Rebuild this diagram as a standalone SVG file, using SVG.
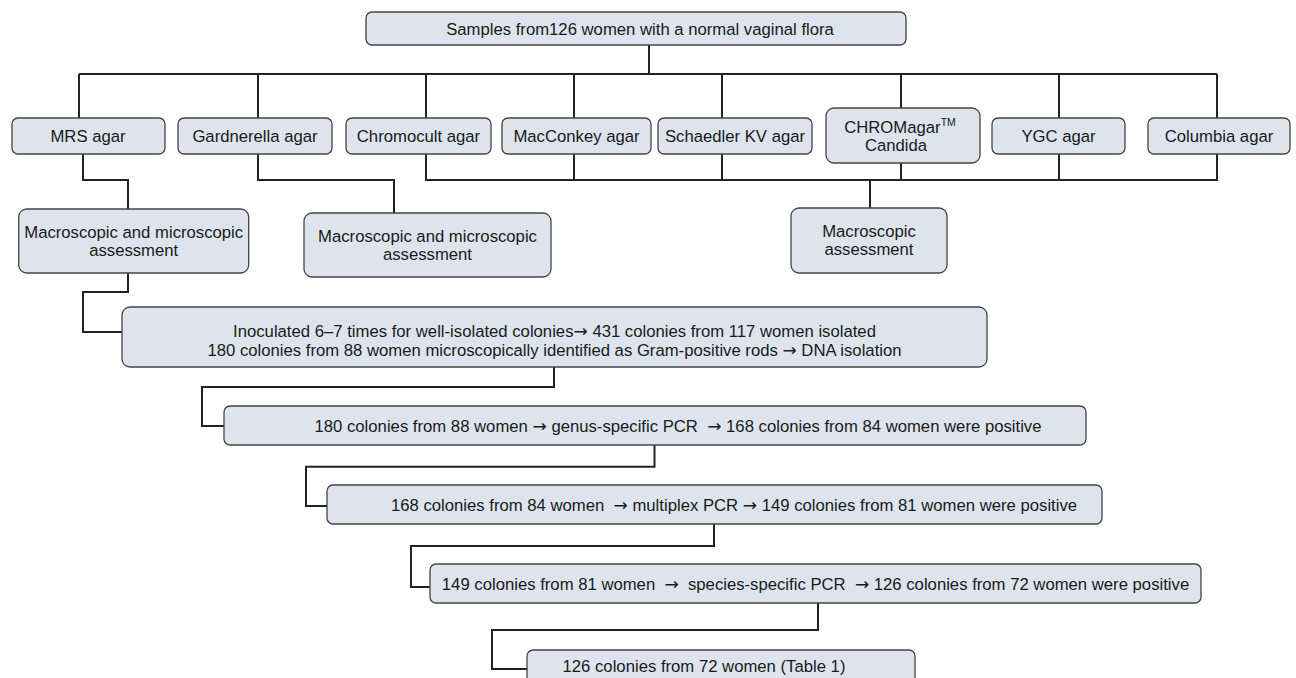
<svg xmlns="http://www.w3.org/2000/svg" width="1296" height="678" viewBox="0 0 1296 678">
<style>
.box{fill:#dde4ee;stroke:#444;stroke-width:1.3}
.t{font-family:"Liberation Sans",Arial,sans-serif;font-size:16.7px;fill:#1a1a1a;text-anchor:middle}
.a{font-family:"DejaVu Sans",sans-serif;font-size:17px}
.c{fill:none;stroke:#222;stroke-width:2}
</style>
<rect width="1296" height="678" fill="#fff"/>
<g id="connectors">
<path class="c" d="M649 45V74M79 74H1217M79 74V118M258 74V118M426 74V118M574 74V118M722 74V118M901 74V108M1059 74V118M1217 74V118"/>
<path class="c" d="M83 154V180H128V209"/>
<path class="c" d="M258 154V180H394V213"/>
<path class="c" d="M426 154V180H1217V154M574 154V180M722 154V180M901 163V180M1059 154V180M870 180V208"/>
<path class="c" d="M128 273V292H83V332H122"/>
<path class="c" d="M554 367V387H202V426H224"/>
<path class="c" d="M654.5 445V466.7H306V506H327"/>
<path class="c" d="M714 524V546H411V587H430"/>
<path class="c" d="M818 603V630H492V669H527"/>
</g>
<g id="n-samples"><rect class="box" x="366" y="12" width="540" height="33" rx="6"/><text class="t" x="640" y="34.5">Samples from126 women with a normal vaginal flora</text></g>
<g id="n-mrs"><rect class="box" x="12" y="118" width="153" height="36" rx="6"/><text class="t" x="88" y="142">MRS agar</text></g>
<g id="n-gard"><rect class="box" x="178" y="118" width="154" height="36" rx="6"/><text class="t" x="255" y="142">Gardnerella agar</text></g>
<g id="n-chromocult"><rect class="box" x="346" y="118" width="145" height="36" rx="6"/><text class="t" x="418.5" y="142">Chromocult agar</text></g>
<g id="n-macconkey"><rect class="box" x="502" y="118" width="149" height="36" rx="6"/><text class="t" x="576.5" y="142">MacConkey agar</text></g>
<g id="n-schaedler"><rect class="box" x="658" y="118" width="154" height="36" rx="6"/><text class="t" x="735" y="142">Schaedler KV agar</text></g>
<g id="n-chromagar"><rect class="box" x="826" y="108" width="154" height="55" rx="8"/><text class="t" x="900" y="133">CHROMagar<tspan font-size="10.5" dy="-7">TM</tspan></text><text class="t" x="896" y="151">Candida</text></g>
<g id="n-ygc"><rect class="box" x="992" y="118" width="133" height="36" rx="6"/><text class="t" x="1058.5" y="142">YGC agar</text></g>
<g id="n-columbia"><rect class="box" x="1148" y="118" width="142" height="36" rx="6"/><text class="t" x="1219" y="142">Columbia agar</text></g>
<g id="n-macro1"><rect class="box" x="18.7" y="209" width="230" height="64" rx="8"/><text class="t" x="133.7" y="237.5">Macroscopic and microscopic</text><text class="t" x="133.7" y="256">assessment</text></g>
<g id="n-macro2"><rect class="box" x="304" y="213" width="247" height="64" rx="8"/><text class="t" x="427.5" y="241.5">Macroscopic and microscopic</text><text class="t" x="427.5" y="260">assessment</text></g>
<g id="n-macro3"><rect class="box" x="791" y="208" width="156" height="65" rx="8"/><text class="t" x="869" y="236.5">Macroscopic</text><text class="t" x="869" y="255">assessment</text></g>
<g id="n-inoc"><rect class="box" x="122" y="307" width="865" height="60" rx="8"/><text class="t" x="554.5" y="336.5">Inoculated 6–7 times for well-isolated colonies<tspan class="a">→</tspan> 431 colonies from 117 women isolated</text><text class="t" x="554.5" y="355.5">180 colonies from 88 women microscopically identified as Gram-positive rods <tspan class="a">→</tspan> DNA isolation</text></g>
<g id="n-genus"><rect class="box" x="224" y="406" width="862" height="39" rx="6"/><text class="t" x="678" y="431.5" xml:space="preserve">180 colonies from 88 women <tspan class="a">→</tspan> genus-specific PCR  <tspan class="a">→</tspan> 168 colonies from 84 women were positive</text></g>
<g id="n-multiplex"><rect class="box" x="327" y="485" width="775" height="39" rx="6"/><text class="t" x="734" y="511" xml:space="preserve">168 colonies from 84 women  <tspan class="a">→</tspan> multiplex PCR <tspan class="a">→</tspan> 149 colonies from 81 women were positive</text></g>
<g id="n-species"><rect class="box" x="430" y="564" width="771" height="39" rx="6"/><text class="t" x="815.5" y="589.5" xml:space="preserve">149 colonies from 81 women  <tspan class="a">→</tspan>  species-specific PCR  <tspan class="a">→</tspan> 126 colonies from 72 women were positive</text></g>
<g id="n-final"><rect class="box" x="527" y="650" width="388" height="45" rx="6"/><text class="t" x="704" y="672">126 colonies from 72 women (Table 1)</text></g>
</svg>
